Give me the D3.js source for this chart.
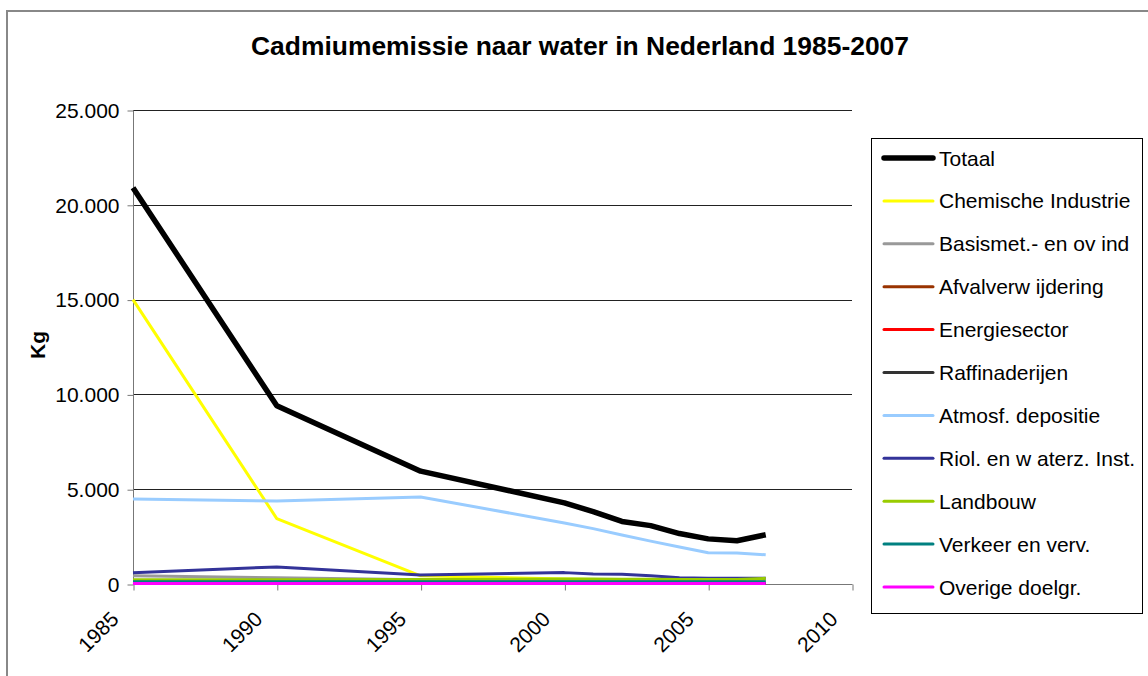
<!DOCTYPE html>
<html>
<head>
<meta charset="utf-8">
<script src="https://cdn.jsdelivr.net/npm/d3@7"></script>
<style>
  html, body { margin: 0; padding: 0; background: #fff; }
  svg { display: block; }
  text { font-family: "Liberation Sans", Arial, sans-serif; fill: #000; }
</style>
</head>
<body>
<svg id="chart" width="1148" height="676"></svg>
<script>
const years = [1985, 1990, 1995, 2000, 2001, 2002, 2003, 2004, 2005, 2006, 2007];
const seriesNames = ["Totaal", "Chemische Industrie", "Basismet.- en ov ind", "Afvalverw ijdering",
  "Energiesector", "Raffinaderijen", "Atmosf. depositie", "Riol. en w aterz. Inst.",
  "Landbouw", "Verkeer en verv.", "Overige doelgr."];
const seriesColors = ["#000000", "#FFFF00", "#999999", "#993300", "#FF0000", "#333333",
  "#99CCFF", "#333399", "#99CC00", "#008080", "#FF00FF"];
const totaal        = [20900, 9400, 5950, 4280, 3820, 3300, 3080, 2660, 2380, 2280, 2600];
const chemische     = [15000, 3450, 430, 260, 240, 220, 200, 190, 180, 180, 180];
const basismet      = [440, 330, 230, 200, 180, 170, 150, 130, 120, 120, 120];
const afval         = [40, 30, 20, 20, 20, 20, 20, 20, 20, 20, 20];
const energie       = [60, 50, 30, 30, 30, 30, 30, 30, 30, 30, 30];
const raffinaderijen= [80, 60, 40, 30, 30, 30, 30, 30, 30, 30, 30];
const atmosf        = [4480, 4380, 4590, 3220, 2920, 2580, 2260, 1950, 1650, 1640, 1540];
const riol          = [590, 900, 480, 600, 530, 520, 430, 330, 300, 300, 300];
const landbouw      = [220, 220, 240, 260, 260, 250, 250, 240, 240, 240, 300];
const verkeer       = [120, 120, 120, 120, 120, 120, 120, 120, 120, 120, 120];
const overige       = [20, 20, 20, 20, 20, 20, 20, 20, 20, 20, 20];
const seriesValues = [totaal, chemische, basismet, afval, energie, raffinaderijen,
  atmosf, riol, landbouw, verkeer, overige];
const xTicks = [1985, 1990, 1995, 2000, 2005, 2010];
const yTicks = [0, 5000, 10000, 15000, 20000, 25000];
const titleText = "Cadmiumemissie naar water in Nederland 1985-2007";
const yTitle = "Kg";

const svg = d3.select("#chart");

// outer frame
svg.append("path")
  .attr("d", "M7,676 L7,11 L1148,11")
  .attr("fill", "none").attr("stroke", "#888").attr("stroke-width", 2);

const plot = { left: 133, right: 852, top: 110, bottom: 584 };
const x = d3.scaleLinear().domain([1985, 2010]).range([plot.left, plot.right]);
const y = d3.scaleLinear().domain([0, 25000]).range([plot.bottom, plot.top]);

// gridlines
svg.append("g").selectAll("line").data(yTicks.filter(d => d > 0)).join("line")
  .attr("x1", plot.left).attr("x2", plot.right)
  .attr("y1", d => Math.round(y(d)) + 0.5).attr("y2", d => Math.round(y(d)) + 0.5)
  .attr("stroke", "#222").attr("stroke-width", 1);

// y axis
const yAxis = d3.axisLeft(y).tickValues(yTicks).tickSize(6).tickPadding(8)
  .tickFormat(d => d3.format(",")(d).replace(/,/g, "."));
const gy = svg.append("g").attr("transform", `translate(${plot.left + 0.5},0.5)`).call(yAxis);
gy.selectAll("path, line").attr("stroke", "#777").attr("stroke-width", 1);
gy.select(".domain").attr("d", `M0,${plot.top}V${plot.bottom}`);
gy.selectAll("text").attr("font-size", 21).attr("font-family", "Liberation Sans, Arial, sans-serif").attr("fill", "#000");

// x axis
const xAxis = d3.axisBottom(x).tickValues(xTicks).tickSize(6).tickFormat(d3.format("d"));
const gx = svg.append("g").attr("transform", `translate(0.5,${plot.bottom + 0.5})`).call(xAxis);
gx.selectAll("path, line").attr("stroke", "#777").attr("stroke-width", 1);
gx.select(".domain").attr("d", `M${plot.left},0H${plot.right}`);
gx.selectAll("text")
  .attr("font-size", 21).attr("font-family", "Liberation Sans, Arial, sans-serif").attr("fill", "#000")
  .attr("text-anchor", "end")
  .attr("dy", null).attr("y", null)
  .attr("transform", "translate(-14,36) rotate(-45)");

// lines
const line = d3.line().x((d, i) => x(years[i])).y(d => y(d));
const g = svg.append("g");
seriesValues.forEach((vals, k) => {
  g.append("path")
    .datum(vals)
    .attr("d", line)
    .attr("fill", "none")
    .attr("stroke", seriesColors[k])
    .attr("stroke-width", k === 0 ? 5.5 : 3)
    .attr("stroke-linejoin", "round");
});

// title
svg.append("text").attr("x", 580).attr("y", 55)
  .attr("text-anchor", "middle").attr("font-size", 25).attr("font-weight", "bold")
  .attr("textLength", 658).attr("lengthAdjust", "spacingAndGlyphs")
  .text(titleText);

// y title
svg.append("text").attr("transform", "translate(45,345) rotate(-90)")
  .attr("text-anchor", "middle").attr("font-size", 21).attr("font-weight", "bold")
  .text(yTitle);

// legend
const leg = svg.append("g");
leg.append("rect").attr("x", 871.5).attr("y", 138.5).attr("width", 271).attr("height", 475)
  .attr("fill", "#fff").attr("stroke", "#000").attr("stroke-width", 1);
const rowY = d3.scaleLinear().domain([0, seriesNames.length - 1]).range([158, 587]);
seriesNames.forEach((name, k) => {
  const yy = rowY(k);
  leg.append("line").attr("x1", 884).attr("x2", 933).attr("y1", yy).attr("y2", yy)
    .attr("stroke", seriesColors[k]).attr("stroke-width", k === 0 ? 5.5 : 3)
    .attr("stroke-linecap", "round");
  leg.append("text").attr("x", 939).attr("y", yy).attr("dy", "0.36em")
    .attr("font-size", 21).text(name);
});
</script>
</body>
</html>
